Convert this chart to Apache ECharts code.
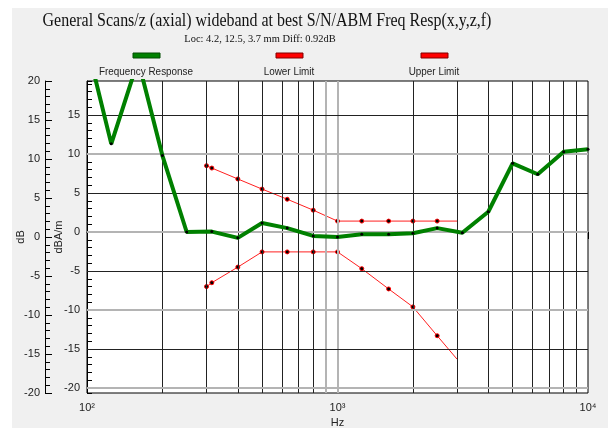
<!DOCTYPE html>
<html>
<head>
<meta charset="utf-8">
<script src="https://cdn.jsdelivr.net/npm/echarts@6/dist/echarts.min.js"></script>
<style>
  html, body { margin: 0; padding: 0; background: #ffffff; }
  #wrap { position: relative; width: 608px; height: 428px; }
  #panel { position: absolute; left: 12px; top: 8px; width: 596px; height: 420px; background: #f0f0f0; }
  #main { position: absolute; left: 0; top: 0; width: 608px; height: 428px; }
</style>
</head>
<body>
<div id="wrap">
  <div id="panel"></div>
  <div id="main"></div>
</div>
<script>
// 频率响应 (dBA/m)
var freqFR = [100, 125, 160, 200, 250, 315, 400, 500, 630, 800, 1000, 1250, 1600, 2000, 2500, 3150, 4000, 5000, 6300, 8000, 10000];
var valFR = [24, 11.3, 22, 9.8, 0.0, 0.05, -0.75, 1.15, 0.5, -0.5, -0.65, -0.3, -0.3, -0.15, 0.5, -0.1, 2.6, 8.8, 7.4, 10.3, 10.6];

// 上下限
var freqLimit = [300, 315, 400, 500, 630, 800, 1000, 1250, 1600, 2000, 2500, 3000];
var upperVals = [8.5, 8.2, 6.8, 5.5, 4.2, 2.8, 1.4, 1.4, 1.4, 1.4, 1.4, 1.4];
var lowerVals = [-7.0, -6.5, -4.5, -2.55, -2.55, -2.55, -2.55, -4.7, -7.3, -9.6, -13.3, -16.3];

// 网格线
var vLines = [200, 300, 400, 500, 600, 700, 800, 900, 1000, 2000, 3000, 4000, 5000, 6000, 7000, 8000, 9000];
var greyV = [900, 1000];
var hLines = [-20, -15, -10, -5, 0, 5, 10, 15];
var greyH = [-20, -10, 0, 10];

var xLabels = { 100: '10\u00b2', 1000: '10\u00b3', 10000: '10\u2074' };

var chartDom = document.getElementById('main');
var myChart = echarts.init(chartDom, null, { renderer: 'canvas' });
var option;

function pairs(xs, ys) {
    return xs.map(function (x, i) {
        var item = { value: [x, ys[i]] };
        // 最后一个点没有标记
        if (xs === freqLimit && i === xs.length - 1) item.symbol = 'none';
        return item;
    });
}

var labelFont = { fontFamily: 'Liberation Sans, Arial', fontSize: 11, color: '#222' };

var vLineData = vLines.map(function (f) {
    var grey = greyV.indexOf(f) >= 0;
    return { xAxis: f, lineStyle: { color: grey ? '#b4b4b4' : '#222', width: grey ? 2 : 1, type: 'solid' } };
});
var hLineData = hLines.map(function (v) {
    var grey = greyH.indexOf(v) >= 0;
    return { yAxis: v, lineStyle: { color: grey ? '#b4b4b4' : '#222', width: grey ? 2 : 1, type: 'solid' } };
});

var legendItems = [
    { name: 'Frequency Response', color: '#008000', stroke: '#004d00', x: 146 },
    { name: 'Lower Limit', color: '#ff0000', stroke: '#800000', x: 289 },
    { name: 'Upper Limit', color: '#ff0000', stroke: '#800000', x: 434 }
];
var graphics = [
    {
        type: 'text', x: 267, y: 12, scaleX: 0.84,
        style: { text: 'General Scans/z (axial) wideband at best S/N/ABM Freq Resp(x,y,z,f)', fontFamily: 'Liberation Serif, Times New Roman', fontSize: 19, fill: '#111', textAlign: 'center' }
    },
    {
        type: 'text', x: 260, y: 34, scaleX: 0.95,
        style: { text: 'Loc: 4.2, 12.5, 3.7 mm Diff: 0.92dB', fontFamily: 'Liberation Serif, Times New Roman', fontSize: 11, fill: '#111', textAlign: 'center' }
    }
];
legendItems.forEach(function (it) {
    graphics.push({
        type: 'rect', shape: { x: it.x - 13, y: 53, width: 27, height: 5 },
        style: { fill: it.color, stroke: it.stroke, lineWidth: 1 }
    });
    graphics.push({
        type: 'text', x: it.x, y: 66, scaleX: 0.9,
        style: { text: it.name, fontFamily: 'Liberation Sans, Arial', fontSize: 11, fill: '#222', textAlign: 'center' }
    });
});

option = {
    backgroundColor: 'transparent',
    animation: false,
    graphic: graphics,
    grid: {
        left: 87, right: 20, top: 81, bottom: 35,
        outerBoundsMode: 'none',
        containLabel: false,
        show: true, backgroundColor: '#ffffff', borderColor: '#000', borderWidth: 1
    },
    xAxis: {
        type: 'log', logBase: 10, min: 100, max: 10000,
        name: 'Hz', nameLocation: 'middle', nameGap: 24, nameMoveOverlap: false,
        nameTextStyle: labelFont,
        axisLine: { show: true, lineStyle: { color: '#000' } },
        axisTick: { show: true, length: 7, lineStyle: { color: '#000' } },
        axisLabel: Object.assign({ margin: 9, formatter: function (v) { return xLabels[Math.round(v)] || ''; } }, labelFont),
        splitLine: { show: false }
    },
    yAxis: [
        {
            // dBA/m 内轴
            type: 'value', min: -20.64, max: 19.36, splitNumber: 8,
            position: 'left', offset: 0,
            name: 'dBA/m', nameLocation: 'middle', nameGap: 23, nameMoveOverlap: false,
            nameTextStyle: labelFont,
            axisLine: { show: true, lineStyle: { color: '#000' } },
            axisTick: { show: true, inside: true, length: 7, lineStyle: { color: '#000' } },
            axisLabel: Object.assign({
                margin: 7, showMinLabel: false, showMaxLabel: false,
                formatter: function (v) { var r = Math.round(v * 100) / 100; return (r % 5 === 0) ? String(r) : ''; }
            }, labelFont),
            splitLine: { show: false }
        },
        {
            // 1 dB 小刻度
            type: 'value', min: -20.64, max: 19.36, splitNumber: 40,
            position: 'left', offset: 0,
            axisLine: { show: false },
            axisTick: { show: true, inside: true, length: 5, lineStyle: { color: '#000' } },
            axisLabel: { show: false },
            splitLine: { show: false }
        },
        {
            // dB 外轴
            type: 'value', min: -20, max: 20, interval: 5,
            position: 'left', offset: 42,
            name: 'dB', nameLocation: 'middle', nameGap: 19, nameMoveOverlap: false,
            nameTextStyle: labelFont,
            axisLine: { show: true, lineStyle: { color: '#000' } },
            axisTick: { show: true, inside: true, length: 7, lineStyle: { color: '#000' } },
            minorTick: { show: true, splitNumber: 5, length: 5, lineStyle: { color: '#000' } },
            axisLabel: Object.assign({ margin: 5 }, labelFont),
            splitLine: { show: false }
        }
    ],
    series: [
        {
            name: 'grid',
            type: 'line',
            data: [],
            silent: true,
            z: 1,
            markLine: {
                silent: true,
                symbol: ['none', 'none'],
                label: { show: false },
                emphasis: { disabled: true },
                animation: false,
                data: vLineData.concat(hLineData)
            }
        },
        {
            name: 'Frequency Response',
            type: 'line',
            data: pairs(freqFR, valFR),
            z: 5,
            symbol: 'circle',
            symbolSize: 3,
            showAllSymbol: true,
            lineStyle: { color: '#008000', width: 4 },
            itemStyle: { color: '#000' }
        },
        {
            name: 'Lower Limit',
            type: 'line',
            data: pairs(freqLimit, lowerVals),
            z: 4,
            symbol: 'circle',
            symbolSize: 4,
            showAllSymbol: true,
            lineStyle: { color: '#ff2020', width: 1 },
            itemStyle: { color: '#000', borderColor: '#ff0000', borderWidth: 1 }
        },
        {
            name: 'Upper Limit',
            type: 'line',
            data: pairs(freqLimit, upperVals),
            z: 4,
            symbol: 'circle',
            symbolSize: 4,
            showAllSymbol: true,
            lineStyle: { color: '#ff2020', width: 1 },
            itemStyle: { color: '#000', borderColor: '#ff0000', borderWidth: 1 }
        }
    ]
};

option && myChart.setOption(option);
</script>
</body>
</html>
